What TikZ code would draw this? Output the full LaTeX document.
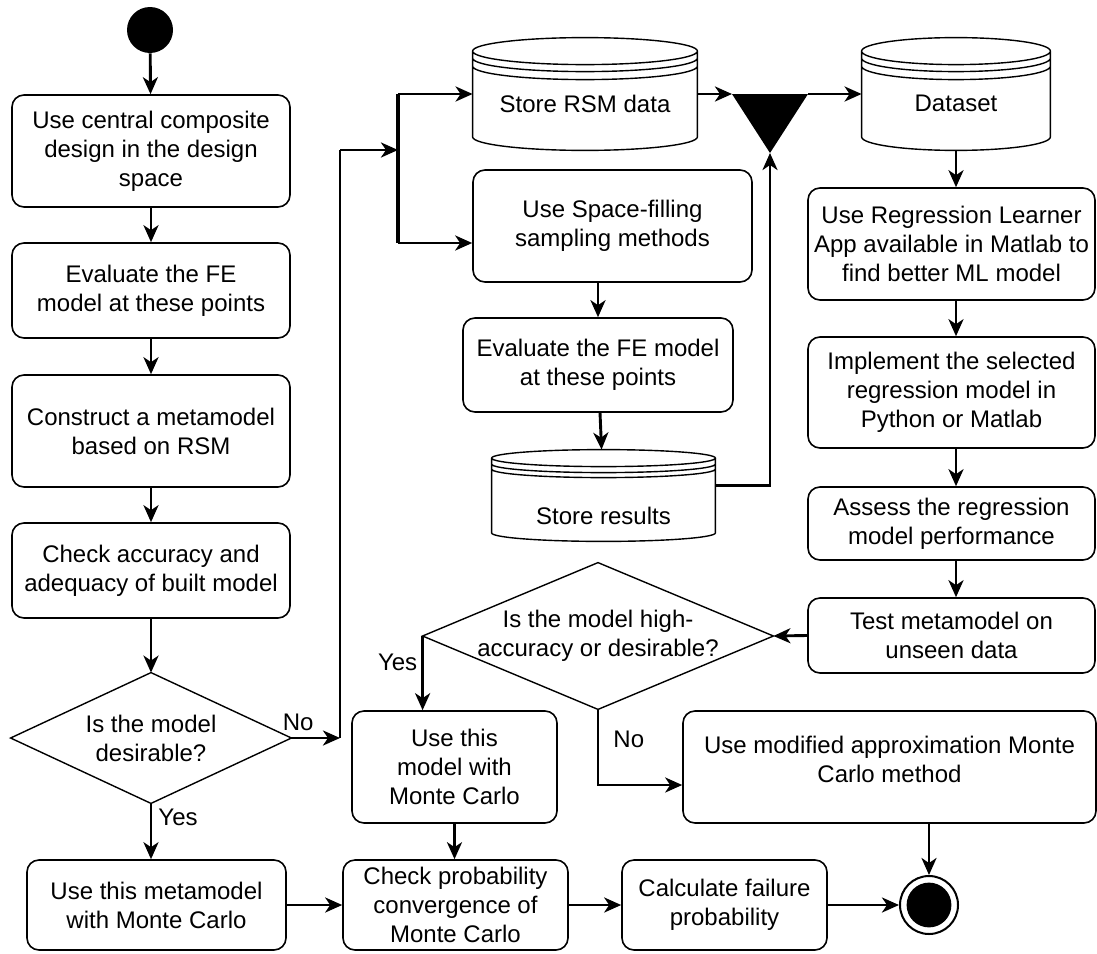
\documentclass[tikz,border=0pt]{standalone}
\usepackage{fontspec}
\setmainfont{Liberation Sans}
\usetikzlibrary{arrows.meta,calc}
\newcommand\drawstore[4]{%
 \draw[shapeline] let \p1=(#1.north west), \p2=(#1.south east), \n1={(\x2-\x1)/2}, \n2={#2*0.5pt} in
   (\x1+\n1,\y1-\n2) ellipse [x radius=\n1, y radius=\n2]
   (\x1,\y1-\n2) -- (\x1,\y2+\n2) arc [start angle=180, end angle=360, x radius=\n1, y radius=\n2] -- (\x2,\y1-\n2)
   (\x1,\y1-\n2-#3*0.5pt) arc [start angle=180, end angle=360, x radius=\n1, y radius=\n2]
   (\x1,\y1-\n2-#4*0.5pt) arc [start angle=180, end angle=360, x radius=\n1, y radius=\n2];
}
\tikzset{
  every node/.style={font=\fontsize{12}{14.5}\selectfont},
  box/.style={draw, line width=0.8pt, rounded corners=6pt, align=center, inner sep=0pt},
  decision/.style={shape=rectangle, draw=none, align=center, inner sep=0pt},
  store/.style={shape=rectangle, draw=none, align=center, inner sep=0pt},
  shapeline/.style={line width=0.7pt},
  wh/.style 2 args={minimum width=#1*0.5pt, minimum height=#2*0.5pt},
  conn/.style={line width=1.45pt, -{Stealth[length=8.5pt,width=7.5pt,inset=2.5pt]}},
  plainline/.style={line width=1.45pt},
  lbl/.style={inner sep=0pt}
}
\begin{document}
\begin{tikzpicture}[x=0.5pt,y=-0.5pt]
\useasboundingbox (0,0) rectangle (1097,953);

% start
\node[circle, fill=black, minimum size=46*0.5pt, inner sep=0pt] (start) at (150,30) {};

% left column
\node[box, wh={278}{112}] (b1) at (151,151) {Use central composite\\design in the design\\space};
\node[box, wh={278}{95}] (b2) at (151,290.5) {Evaluate the FE\\model at these points};
\node[box, wh={278}{112}] (b3) at (151,431) {Construct a metamodel\\based on RSM};
\node[box, wh={278}{95}] (b4) at (151,570.5) {Check accuracy and\\adequacy of built model};
\node[decision, wh={280}{130}] (d1) at (151,738) {Is the model\\desirable?};
\draw[shapeline] (d1.north) -- (d1.east) -- (d1.south) -- (d1.west) -- cycle;

% bottom row
\node[box, wh={259}{90}] (bA) at (156.5,905) {Use this metamodel\\with Monte Carlo};
\node[box, wh={225}{90}] (bB) at (455.5,905) {Check probability\\convergence of\\Monte Carlo};
\node[box, wh={205}{90}] (bC) at (724.5,905) {Calculate failure\\probability};
\node[circle, draw, line width=1pt, minimum size=58*0.5pt, inner sep=0pt] (end) at (929,905) {};
\fill (end.center) circle (11.2pt);

% middle column
\node[store, wh={224}{112}] (rsm) at (585,94) {\raisebox{-5pt}[\height][\depth]{Store RSM data}};
\drawstore{rsm}{13.5}{7}{15}
\node[store, wh={188}{112}] (ds) at (956,94) {\raisebox{-4.5pt}[\height][\depth]{Dataset}};
\drawstore{ds}{13.5}{7}{15}
\node[box, wh={279}{112}] (sf) at (612.5,226) {Use Space-filling\\sampling methods};
\node[box, wh={270}{94}] (ev2) at (598,365) {Evaluate the FE model\\at these points};
\node[store, wh={223}{91}] (res) at (603.5,495.5) {\raisebox{-10pt}[\height][\depth]{Store results}};
\drawstore{res}{8.5}{6}{11}

% merge bar
\coordinate (mL) at (732,94);
\coordinate (mR) at (808,94);
\coordinate (mB) at (770,153);
\fill (mL) -- (mR) -- (mB) -- cycle;

% right column
\node[box, wh={287}{112}] (reg) at (951.5,244) {Use Regression Learner\\App available in Matlab to\\find better ML model};
\node[box, wh={287}{111}] (impl) at (951.5,392.5) {Implement the selected\\regression model in\\Python or Matlab};
\node[box, wh={287}{73}] (assess) at (951.5,523.5) {Assess the regression\\model performance};
\node[box, wh={287}{75}] (test) at (951.5,635.5) {Test metamodel on\\unseen data};

\node[decision, wh={350}{146}] (d2) at (598,636) {Is the model high-\\accuracy or desirable?};
\draw[shapeline] (d2.north) -- (d2.east) -- (d2.south) -- (d2.west) -- cycle;

\node[box, wh={205}{112}] (uthis) at (454.5,767) {Use this\\model with\\Monte Carlo};
\node[box, wh={413}{112}] (modif) at (889.5,767) {\raisebox{2.5pt}[\height][\depth]{\begin{tabular}{@{}c@{}}Use modified approximation Monte\\Carlo method\end{tabular}}};

% junction coordinates
\coordinate (j1) at (340,738);
\coordinate (j2) at (340,150);
\coordinate (fk) at (398,150);
\coordinate (fkT) at (398,94);
\coordinate (fkB) at (398,243);

% connectors left
\draw[conn] (start) -- (b1);
\draw[conn] (b1) -- (b2);
\draw[conn] (b2) -- (b3);
\draw[conn] (b3) -- (b4);
\draw[conn] (b4) -- (d1.north);
\draw[conn] (d1.south) -- (d1.south |- bA.north) node[at start, anchor=north west, lbl, xshift=3pt, yshift=-2pt] {Yes};
\draw[conn] (d1.east) -- (j1) node[at start, anchor=south west, lbl, xshift=-5pt, yshift=3pt] {No};
\draw[plainline] (j1) -- (j2);
\draw[conn] (j2) -- (fk);
\draw[line width=1.6pt] (fkT) -- (fkB);
\draw[conn] (fkT) -- (rsm.west);
\draw[conn] (fkB) -- (fkB -| sf.west);

% middle connectors
\draw[conn] (rsm.east) -- (mL);
\draw[conn] (mR) -- (ds.west);
\draw[conn] (ev2.north |- sf.south) -- (ev2.north);
\draw[conn] (ev2) -- (res);
\draw[conn] ([yshift=5pt]res.east) -| (mB);

% right connectors
\draw[conn] (ds.south) -- (ds.south |- reg.north);
\draw[conn] (ds.south |- reg.south) -- (ds.south |- impl.north);
\draw[conn] (ds.south |- impl.south) -- (ds.south |- assess.north);
\draw[conn] (ds.south |- assess.south) -- (ds.south |- test.north);
\draw[conn] (test.west) -- (d2.east);
\draw[conn] (d2.west) -- (d2.west |- uthis.north) node[pos=0.35, anchor=east, lbl, xshift=-2pt] {Yes};
\draw[conn] (d2.south) |- ([yshift=-9pt]modif.west) node[pos=0.2, anchor=west, lbl, xshift=7pt] {No};
\draw[conn] (uthis) -- (uthis.south |- bB.north);
\draw[conn] (end.north |- modif.south) -- (end.north);

% bottom connectors
\draw[conn] (bA) -- (bB);
\draw[conn] (bB) -- (bC);
\draw[conn] (bC) -- (end);
\end{tikzpicture}
\end{document}
